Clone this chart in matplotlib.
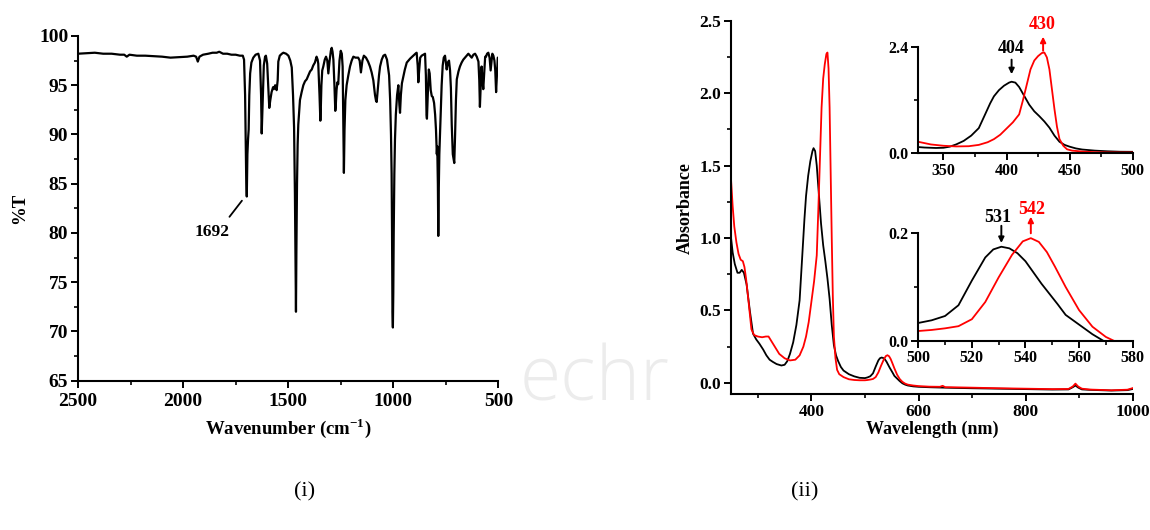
import matplotlib
matplotlib.use("Agg")
import matplotlib.pyplot as plt
from matplotlib.ticker import MultipleLocator, FixedLocator
from matplotlib.patches import Rectangle

# (i) IR spectrum
ir_wn = [2500, 2460, 2420, 2380, 2340, 2300, 2280, 2268, 2255, 2220,
         2180, 2140, 2100, 2060, 2020, 1980, 1950, 1938, 1930, 1922,
         1905, 1880, 1860, 1840, 1828, 1810, 1790, 1770, 1750, 1730,
         1716, 1710, 1705, 1700, 1697, 1694, 1691, 1688, 1685, 1681,
         1675, 1666, 1655, 1642, 1634, 1629, 1626, 1622, 1616, 1610,
         1606, 1600, 1595, 1590, 1585, 1579, 1572, 1568, 1562, 1555,
         1550, 1547, 1540, 1530, 1523, 1510, 1499, 1490, 1483, 1477,
         1472, 1468, 1465, 1463, 1461, 1458, 1455, 1452, 1444, 1436,
         1428, 1420, 1412, 1404, 1396, 1388, 1381, 1373, 1365, 1360,
         1357, 1351, 1347, 1345, 1342, 1338, 1333, 1326, 1320, 1314,
         1309, 1303, 1297, 1293, 1289, 1285, 1280, 1276, 1274, 1270,
         1266, 1262, 1256, 1250, 1245, 1241, 1238, 1235, 1232, 1228,
         1222, 1214, 1206, 1198, 1190, 1180, 1167, 1160, 1154, 1147,
         1140, 1130, 1120, 1111, 1103, 1095, 1087, 1082, 1079, 1074,
         1068, 1063, 1055, 1047, 1039, 1030, 1024, 1020, 1015, 1011,
         1008, 1006, 1004, 1002, 1000, 998, 995, 992, 988, 982,
         976, 971, 968, 964, 959, 955, 945, 936, 920, 905,
         895, 889, 884, 881, 877, 872, 865, 857, 849, 845,
         842, 840, 836, 831, 827, 822, 817, 812, 806, 801,
         797, 793, 791, 788, 786, 784, 781, 778, 774, 770,
         765, 760, 754, 750, 746, 741, 735, 730, 726, 722,
         717, 713, 710, 706, 702, 698, 690, 683, 675, 667,
         659, 651, 643, 635, 627, 619, 611, 603, 595, 591,
         588, 585, 580, 576, 572, 567, 563, 559, 554, 548,
         542, 537, 533, 529, 524, 519, 515, 511, 507, 503, 500]
ir_t = [98.2, 98.25, 98.3, 98.2, 98.2, 98.1, 98.1, 97.9, 98.1, 98.0,
        98.0, 97.95, 97.9, 97.8, 97.85, 97.9, 98.0, 97.9, 97.4, 97.9,
        98.1, 98.2, 98.3, 98.3, 98.4, 98.2, 98.2, 98.1, 98.1, 98.0,
        98.0, 97.6, 94.0, 86.0, 83.7, 88.0, 89.5, 90.5, 94.0, 96.2,
        97.3, 97.8, 98.1, 98.2, 97.5, 94.0, 90.1, 93.0, 97.0, 97.9,
        98.0, 97.2, 95.0, 92.7, 93.5, 94.3, 94.8, 94.6, 95.0, 94.5,
        95.5, 97.4, 98.0, 98.2, 98.3, 98.2, 98.0, 97.5, 96.8, 94.0,
        90.7, 84.0, 77.0, 72.0, 78.0, 85.0, 89.0, 91.0, 93.5, 94.3,
        95.0, 95.4, 95.6, 96.0, 96.4, 96.6, 97.0, 97.3, 97.9, 97.6,
        97.2, 94.0, 91.4, 92.5, 95.0, 96.5, 96.9, 97.6, 97.9, 97.5,
        96.2, 97.5, 98.5, 98.8, 98.4, 97.6, 95.0, 92.4, 92.8, 94.5,
        95.3, 95.1, 97.5, 98.5, 98.2, 96.9, 91.0, 86.1, 90.5, 93.5,
        95.0, 96.0, 96.9, 97.5, 97.9, 97.8, 97.8, 97.5, 96.3, 97.5,
        98.0, 97.8, 97.4, 96.9, 96.3, 95.5, 94.0, 93.4, 93.3, 94.5,
        96.0, 96.9, 97.6, 98.0, 98.1, 97.6, 96.6, 96.0, 93.5, 90.0,
        86.0, 80.0, 72.0, 70.4, 74.0, 80.0, 86.0, 89.5, 92.0, 94.0,
        95.0, 93.0, 92.2, 94.0, 95.2, 95.6, 96.6, 97.3, 97.7, 98.0,
        98.2, 98.3, 97.0, 95.3, 96.5, 97.8, 98.0, 98.1, 98.2, 96.0,
        92.0, 91.6, 94.0, 96.6, 96.2, 94.5, 93.9, 93.8, 93.2, 92.0,
        90.5, 88.0, 88.8, 85.0, 79.7, 84.0, 88.0, 90.0, 92.4, 95.0,
        97.0, 97.8, 98.0, 97.3, 96.6, 97.3, 97.5, 96.5, 94.7, 91.0,
        88.0, 87.5, 87.1, 90.0, 93.5, 95.6, 96.4, 96.9, 97.3, 97.6,
        97.8, 98.0, 98.2, 98.0, 97.8, 98.1, 98.2, 97.9, 97.4, 95.5,
        92.8, 94.5, 96.9, 95.5, 94.6, 96.5, 97.9, 97.9, 98.2, 98.3,
        97.8, 96.5, 97.4, 98.2, 98.0, 97.5, 96.5, 94.3, 96.0, 97.8, 97.8]

# (ii) UV-vis spectra
wl_black = [250, 253, 257, 262, 266, 270, 274, 279, 285, 291,
            297, 303, 310, 316, 322, 328, 335, 344, 350, 355,
            360, 366, 372, 378, 383, 387, 390, 394, 398, 402,
            404, 407, 410, 414, 418, 422, 426, 430, 434, 438,
            442, 446, 450, 455, 460, 470, 480, 490, 500, 505,
            510, 515, 520, 525, 528, 531, 534, 537, 540, 543,
            546, 549, 552, 555, 560, 565, 570, 575, 580, 590,
            600, 620, 640, 660, 700, 750, 800, 850, 880, 888,
            893, 898, 905, 920, 960, 990, 1000]
abs_black = [1.00, 0.90, 0.82, 0.76, 0.76, 0.78, 0.76, 0.68, 0.50, 0.34,
             0.30, 0.27, 0.23, 0.19, 0.16, 0.145, 0.13, 0.12, 0.125, 0.15,
             0.20, 0.28, 0.40, 0.57, 0.88, 1.13, 1.29, 1.43, 1.53, 1.60,
             1.62, 1.60, 1.50, 1.30, 1.10, 0.95, 0.84, 0.72, 0.58, 0.40,
             0.26, 0.19, 0.15, 0.11, 0.085, 0.06, 0.045, 0.035, 0.033, 0.038,
             0.046, 0.066, 0.112, 0.155, 0.17, 0.175, 0.172, 0.163, 0.148, 0.127,
             0.106, 0.087, 0.068, 0.048, 0.030, 0.012, -0.003, -0.012, -0.018, -0.024,
             -0.027, -0.030, -0.032, -0.034, -0.037, -0.040, -0.043, -0.046, -0.045, -0.030,
             -0.018, -0.032, -0.045, -0.048, -0.053, -0.050, -0.042]
wl_red = [250, 253, 256, 260, 264, 268, 272, 275, 278, 283,
          288, 293, 300, 308, 315, 320, 325, 330, 340, 350,
          360, 370, 378, 385, 390, 395, 400, 405, 410, 413,
          416, 419, 422, 425, 428, 430, 432, 434, 436, 438,
          440, 442, 445, 448, 452, 460, 470, 480, 490, 500,
          505, 510, 515, 520, 525, 530, 535, 539, 542, 545,
          548, 551, 555, 560, 565, 570, 575, 580, 590, 600,
          620, 640, 645, 650, 660, 700, 750, 800, 850, 880,
          888, 893, 898, 905, 920, 960, 990, 1000]
abs_red = [1.40, 1.22, 1.08, 0.97, 0.89, 0.85, 0.84, 0.80, 0.72, 0.55,
           0.37, 0.33, 0.32, 0.315, 0.32, 0.32, 0.29, 0.26, 0.20, 0.17,
           0.155, 0.16, 0.19, 0.25, 0.32, 0.42, 0.56, 0.70, 0.88, 1.20,
           1.55, 1.90, 2.10, 2.20, 2.27, 2.28, 2.17, 1.90, 1.45, 1.00,
           0.60, 0.32, 0.17, 0.09, 0.06, 0.04, 0.025, 0.02, 0.018, 0.018,
           0.02, 0.023, 0.027, 0.040, 0.072, 0.118, 0.160, 0.185, 0.191, 0.184,
           0.165, 0.138, 0.100, 0.057, 0.026, 0.007, -0.005, -0.012, -0.018, -0.022,
           -0.026, -0.027, -0.020, -0.030, -0.030, -0.033, -0.037, -0.040, -0.043, -0.042,
           -0.025, -0.005, -0.025, -0.040, -0.046, -0.051, -0.047, -0.036]

RED = '#ff0000'

plt.rcParams['font.family'] = ['Liberation Serif', 'DejaVu Serif']
plt.rcParams['font.weight'] = 'bold'
plt.rcParams['mathtext.fontset'] = 'custom'
plt.rcParams['mathtext.rm'] = 'Liberation Serif:bold'
plt.rcParams['mathtext.bf'] = 'Liberation Serif:bold'
plt.rcParams['axes.linewidth'] = 1.5


def style_axes(ax, size):
    for s in ('top', 'right'):
        ax.spines[s].set_visible(False)
    ax.tick_params(which='major', direction='out', length=5, width=1.4,
                   labelsize=size, pad=2)
    ax.tick_params(which='minor', direction='out', length=3, width=1.2)
    for lab in ax.get_xticklabels() + ax.get_yticklabels():
        lab.set_fontweight('bold')


fig = plt.figure(figsize=(11.5, 5.3), dpi=100)
fig.patch.set_facecolor('white')

# faint watermark between the panels
fig.text(0.452, 0.245, 'echr', color='#ececec', fontsize=54,
         family='Open Sans', weight='light', zorder=-2)
fig.patches.append(Rectangle((0.5826, 0), 0.42, 1, transform=fig.transFigure,
                             facecolor='white', edgecolor='none', zorder=-1))

# ---------------- (i) IR ----------------
ax1 = fig.add_axes([0.0678, 0.2817, 0.3656, 0.6504])
ax1.plot(ir_wn, ir_t, color='black', lw=1.6)
ax1.set_xlim(2500, 500)
ax1.set_ylim(65, 100)
ax1.xaxis.set_major_locator(MultipleLocator(500))
ax1.xaxis.set_minor_locator(MultipleLocator(250))
ax1.yaxis.set_major_locator(MultipleLocator(5))
ax1.yaxis.set_minor_locator(MultipleLocator(2.5))
style_axes(ax1, 14)
ax1.tick_params(axis='x', pad=4)
ax1.set_xlabel('Wavenumber (cm$^{\\mathbf{-1}}$)', fontsize=13.5, fontweight='bold',
               labelpad=4)
ax1.set_ylabel('%T', fontsize=13.5, fontweight='bold', labelpad=8)
ax1.annotate('1692', xy=(1712, 83.5), xytext=(1864, 80.1),
             ha='center', va='center', fontsize=12.5, fontweight='bold',
             arrowprops=dict(arrowstyle='-', color='black', lw=1.3,
                             relpos=(0.85, 1.0), shrinkA=4, shrinkB=2))

# ---------------- (ii) UV-vis ----------------
ax2 = fig.add_axes([0.6357, 0.2557, 0.3493, 0.7053])
ax2.plot(wl_black, abs_black, color='black', lw=1.3)
ax2.plot(wl_red, abs_red, color=RED, lw=1.3)
ax2.set_xlim(250, 1000)
ax2.set_ylim(-0.08, 2.5)
ax2.xaxis.set_major_locator(FixedLocator([400, 600, 800, 1000]))
ax2.xaxis.set_minor_locator(FixedLocator([300, 500, 700, 900]))
ax2.yaxis.set_major_locator(MultipleLocator(0.5))
ax2.yaxis.set_minor_locator(MultipleLocator(0.25))
ax2.yaxis.set_major_formatter(plt.FormatStrFormatter('%.1f'))
style_axes(ax2, 12.5)
ax2.set_xlabel('Wavelength (nm)', fontsize=13, fontweight='bold', labelpad=0)
ax2.set_ylabel('Absorbance', fontsize=13, fontweight='bold', labelpad=4)

# inset: Soret band
ins1 = fig.add_axes([0.7985, 0.7108, 0.1864, 0.2])
ins1.plot(wl_black, abs_black, color='black', lw=1.3)
ins1.plot(wl_red, abs_red, color=RED, lw=1.3)
ins1.set_xlim(330, 500)
ins1.set_ylim(0, 2.4)
ins1.xaxis.set_major_locator(MultipleLocator(50))
ins1.xaxis.set_minor_locator(MultipleLocator(25))
ins1.yaxis.set_major_locator(FixedLocator([0, 2.4]))
ins1.yaxis.set_minor_locator(FixedLocator([1.2]))
ins1.yaxis.set_major_formatter(plt.FormatStrFormatter('%.1f'))
style_axes(ins1, 11.5)
ins1.annotate('', xy=(404, 1.79), xytext=(404, 2.12), annotation_clip=False,
              arrowprops=dict(arrowstyle='-|>', color='black', lw=1.4,
                              mutation_scale=8, shrinkA=0, shrinkB=0))
ins1.text(404, 2.37, '404', ha='center', va='center', fontsize=13,
          fontweight='bold', color='black', clip_on=False)
ins1.annotate('', xy=(429, 2.64), xytext=(429, 2.32), annotation_clip=False,
              arrowprops=dict(arrowstyle='-|>', color=RED, lw=1.4,
                              mutation_scale=8, shrinkA=0, shrinkB=0))
ins1.text(428, 2.91, '430', ha='center', va='center', fontsize=13,
          fontweight='bold', color=RED, clip_on=False)

# inset: Q band
ins2 = fig.add_axes([0.7985, 0.3572, 0.1864, 0.2026])
ins2.plot(wl_black, abs_black, color='black', lw=1.3)
ins2.plot(wl_red, abs_red, color=RED, lw=1.3)
ins2.set_xlim(500, 580)
ins2.set_ylim(0, 0.2)
ins2.xaxis.set_major_locator(MultipleLocator(20))
ins2.xaxis.set_minor_locator(MultipleLocator(10))
ins2.yaxis.set_major_locator(FixedLocator([0, 0.2]))
ins2.yaxis.set_minor_locator(FixedLocator([0.1]))
ins2.yaxis.set_major_formatter(plt.FormatStrFormatter('%.1f'))
style_axes(ins2, 11.5)
ins2.annotate('', xy=(531, 0.182), xytext=(531, 0.214), annotation_clip=False,
              arrowprops=dict(arrowstyle='-|>', color='black', lw=1.4,
                              mutation_scale=8, shrinkA=0, shrinkB=0))
ins2.text(529.5, 0.229, '531', ha='center', va='center', fontsize=13,
          fontweight='bold', color='black', clip_on=False)
ins2.annotate('', xy=(542, 0.231), xytext=(542, 0.2), annotation_clip=False,
              arrowprops=dict(arrowstyle='-|>', color=RED, lw=1.4,
                              mutation_scale=8, shrinkA=0, shrinkB=0))
ins2.text(542.3, 0.245, '542', ha='center', va='center', fontsize=13,
          fontweight='bold', color=RED, clip_on=False)

# panel captions
fig.text(305 / 1150, 1 - 492 / 530, '(i)', ha='center', va='center',
         fontsize=16, fontweight='normal')
fig.text(805 / 1150, 1 - 492 / 530, '(ii)', ha='center', va='center',
         fontsize=16, fontweight='normal')

fig.savefig('out.png', dpi=100)
